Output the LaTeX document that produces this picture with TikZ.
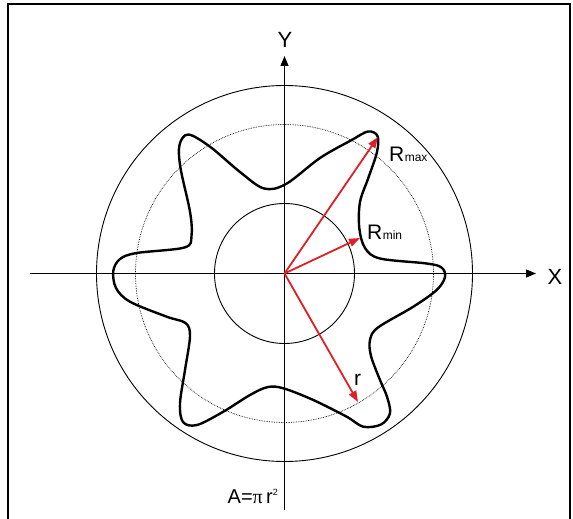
\documentclass[tikz,border=0pt]{standalone}
\usepackage{fontspec}
\setmainfont{Liberation Sans}
\newfontfamily\pifont{Liberation Serif}
\usetikzlibrary{arrows.meta}
\definecolor{arrowred}{RGB}{222,32,38}
\begin{document}
\begin{tikzpicture}[x=1pt,y=-1pt,
  frameline/.style={line width=2.6pt},
  axisline/.style={line width=1.1pt,-{Triangle[length=10pt,width=8pt]}},
  thincircle/.style={line width=0.9pt},
  dotcircle/.style={line width=0.7pt,densely dotted},
  starline/.style={line width=2.4pt,line join=round},
  redarrow/.style={arrowred,line width=1.8pt,-{Triangle[length=11pt,width=8pt]}},
  biglabel/.style={font=\fontsize{22}{24}\selectfont,inner sep=0pt},
  rlabel/.style={font=\fontsize{21}{24}\selectfont,inner sep=0pt,anchor=base west},
  sublabel/.style={font=\fontsize{12}{14}\selectfont,inner sep=0pt,anchor=base west}]
\useasboundingbox (0,0) rectangle (573,519);
% frame
\draw[frameline] (8,520) -- (8,4) -- (570,4) -- (570,520);
% centre and axis ends
\coordinate (O) at (284.5,273.5);
\coordinate (xl) at (30,273.5);
\coordinate (xr) at (536,273.5);
\coordinate (yb) at (284.5,510);
\coordinate (yt) at (284.5,56);
% circles
\draw[thincircle] (O) circle[radius=188pt];
\draw[dotcircle] (O) circle[radius=149pt];
\draw[thincircle] (O) circle[radius=70pt];
% axes
\draw[axisline] (xl) -- (xr);
\draw[axisline] (yb) -- (yt);
\node[biglabel] (X) at (555,277) {X};
\node[biglabel] (Y) at (285,40) {Y};
% star curve
\draw[starline] plot[smooth cycle, tension=0.55] coordinates {
 (286,184) (320,158) (351.7,140) (368,131.5) (377.5,136) (377,152)
 (368.3,178) (360,202) (359.3,228) (365,248) (380,258.5)
 (426.7,263.5) (441.5,267.5) (445,277) (436.7,290) (413.3,306.7)
 (378,327.5) (370,340) (371,356) (380,380) (387,396.7) (390,413.3)
 (381,424.5) (363.3,426.7) (346.7,416.7) (313.3,400) (284,388.5)
 (268,387) (250,395) (223.3,411.7) (197,425) (183,422)
 (180,403.3) (185,370) (190,336) (185.5,323) (166.7,316.7)
 (130,301.7) (116,288) (113.3,271) (120,259) (136.7,253)
 (184.5,247.5) (191.5,236) (190,211.7) (180.5,168) (179.5,145)
 (188.3,134.5) (210,146.7) (240,172) (264,188.5)};
% radius vectors
\coordinate (Rmaxend) at (378,137);
\coordinate (Rminend) at (360,238);
\coordinate (rend) at (358,402);
\draw[redarrow] (O) -- (Rmaxend);
\draw[redarrow] (O) -- (Rminend);
\draw[redarrow] (O) -- (rend);
% labels
\node[rlabel] (Rmax) at (389,161) {R};
\node[sublabel] (Rmaxs) at (Rmax.base east) {max};
\node[rlabel] (Rmin) at (367,239) {R};
\node[sublabel] (Rmins) at (Rmin.base east) {min};
\node[rlabel] (r) at (354,385) {r};
\node[font=\fontsize{20}{22}\selectfont,inner sep=0pt,anchor=base east] (A) at (278,503) {A={\pifont\fontsize{20}{22}\selectfont π}\,r\raisebox{8pt}{\fontsize{9}{10}\selectfont 2}};
\end{tikzpicture}
\end{document}
